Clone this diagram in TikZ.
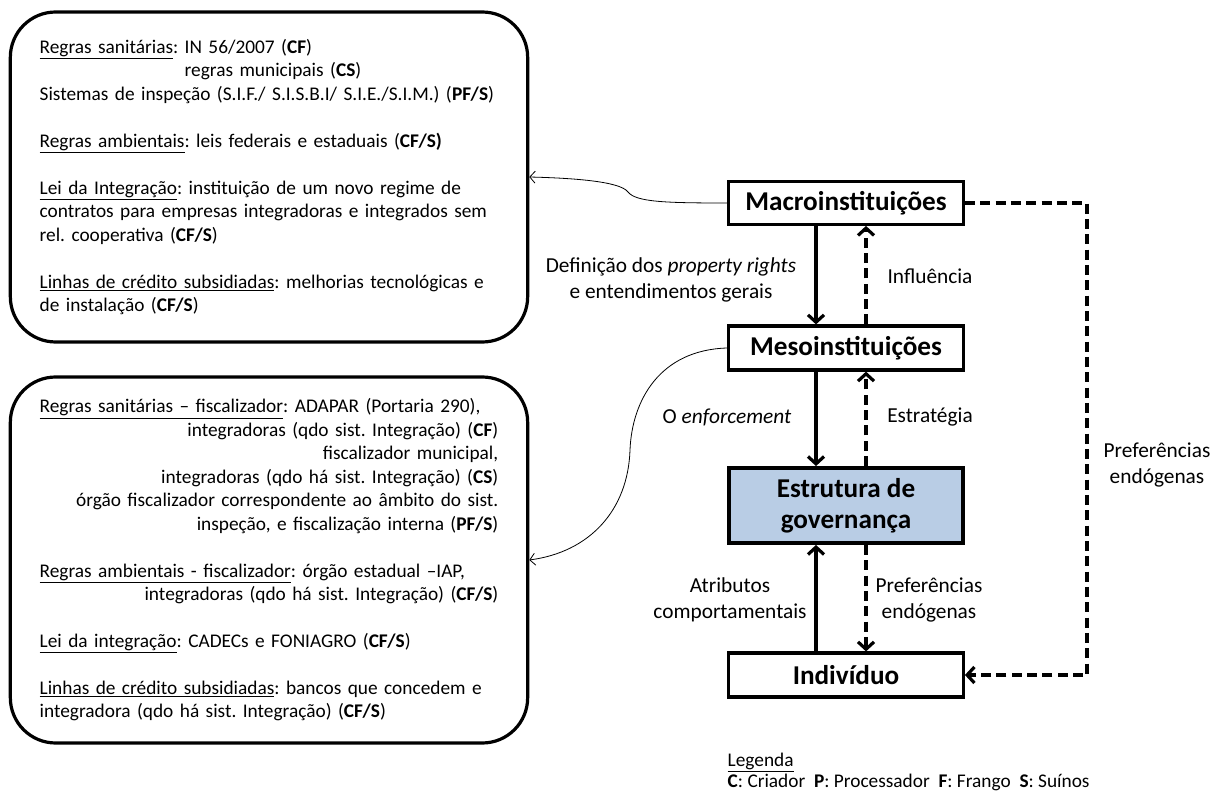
\documentclass[tikz,border=0pt]{standalone}
\usepackage{fontspec}
\setmainfont{Carlito}
\usetikzlibrary{arrows.meta}
\definecolor{govblue}{HTML}{B9CDE5}
\frenchspacing
\newcommand{\txtsize}{\fontsize{14.5}{17.6}\selectfont}
\newcommand{\ttlsize}{\fontsize{20.4}{23.3}\selectfont\bfseries}
\newcommand{\rgt}{\hspace*{\fill}}
\tikzset{
    instbox/.style={draw, line width=2.4pt, minimum width=176pt, minimum height=32pt, font=\ttlsize, inner sep=2pt},
    rulebox/.style={draw, line width=2.4pt, rounded corners=34pt, text width=344pt, align=left, font=\txtsize, inner xsep=22pt},
    mainarrow/.style={line width=2.4pt, -{Straight Barb[length=5.5pt,width=12pt]}},
    sidearrow/.style={mainarrow, dash pattern=on 7.5pt off 4pt},
    linkarrow/.style={line width=0.6pt, -{Straight Barb[length=4pt,width=9pt]}},
    lbl/.style={font=\fontsize{16}{19.5}\selectfont, align=center}
}

\begin{document}
\begin{tikzpicture}[x=0.75pt, y=-0.75pt]
\useasboundingbox (0,0) rectangle (1217,791);

\node[rulebox, minimum height=247.5pt] (topbox) at (269,177) {%
\underline{Regras sanitárias}: IN 56/2007 (\textbf{CF})\\
\phantom{\underline{Regras sanitárias}: }regras municipais (\textbf{CS})\\
Sistemas de inspeção (S.I.F./ S.I.S.B.I/ S.I.E./S.I.M.) (\textbf{PF/S})\\[17.6pt]
\underline{Regras ambientais}: leis federais e estaduais (\textbf{CF/S)}\\[17.6pt]
\underline{Lei da Integração}: instituição de um novo regime de\\
contratos para empresas integradoras e integrados sem\\
rel. cooperativa (\textbf{CF/S})\\[17.6pt]
\underline{Linhas de crédito subsidiadas}: melhorias tecnológicas e\\
de instalação (\textbf{CF/S})};

\node[rulebox, minimum height=274.5pt] (botbox) at (269,560) {%
\underline{Regras sanitárias – fiscalizador}: ADAPAR (Portaria 290),\\
\rgt integradoras (qdo sist. Integração) (\textbf{CF})\\
\rgt fiscalizador municipal,\\
\rgt integradoras (qdo há sist. Integração) (\textbf{CS})\\
\rgt órgão fiscalizador correspondente ao âmbito do sist.\\
\rgt inspeção, e fiscalização interna (\textbf{PF/S})\\[17.6pt]
\underline{Regras ambientais - fiscalizador}: órgão estadual –IAP,\\
\rgt integradoras (qdo há sist. Integração) (\textbf{CF/S})\\[17.6pt]
\underline{Lei da integração}: CADECs e FONIAGRO (\textbf{CF/S})\\[17.6pt]
\underline{Linhas de crédito subsidiadas}: bancos que concedem e\\
integradora (qdo há sist. Integração) (\textbf{CF/S})};

\node[instbox] (macro) at (846,203) {Macroinstituições};
\node[instbox, minimum height=33pt] (meso) at (846,348) {Mesoinstituições};
\node[instbox, line width=3.2pt, fill=govblue, minimum height=56pt, align=center] (gov) at (846,505.5) {Estrutura de\\governança};
\node[instbox, minimum height=33pt] (indiv) at (846,675) {Indivíduo};

\node[lbl] (lbldef) at (671,280) {Definição dos \textit{property rights}\\e entendimentos gerais};
\node[lbl] (lblinf) at (930,276) {Influência};
\node[lbl] (lblenf) at (727,417) {O \textit{enforcement}};
\node[lbl] (lblest) at (930,417) {Estratégia};
\node[lbl] (lblatr) at (730,600) {Atributos\\comportamentais};
\node[lbl] (lblpref) at (929,600) {Preferências\\endógenas};
\node[lbl] (lblprefr) at (1157,465) {Preferências\\endógenas};
\node[font=\fontsize{14.5}{15.8}\selectfont, align=left, anchor=west] (legenda) at (723,772)
    {\underline{Legenda}\\\textbf{C}: Criador \ \textbf{P}: Processador \ \textbf{F}: Frango \ \textbf{S}: Suínos};

\draw[mainarrow] ([xshift=-22.5pt]macro.south) -- ([xshift=-22.5pt]meso.north);
\draw[sidearrow] ([xshift=15pt]meso.north) -- ([xshift=15pt]macro.south);
\draw[mainarrow] ([xshift=-22.5pt]meso.south) -- ([xshift=-22.5pt]gov.north);
\draw[sidearrow] ([xshift=15pt]gov.north) -- ([xshift=15pt]meso.south);
\draw[mainarrow] ([xshift=-22.5pt]indiv.north) -- ([xshift=-22.5pt]gov.south);
\draw[sidearrow] ([xshift=15pt]gov.south) -- ([xshift=15pt]indiv.north);

\coordinate (corner) at (1087,203);
\draw[sidearrow] (macro.east) -- (corner) |- (indiv.east);

\draw[linkarrow] (macro.west)
        .. controls (665,203) and (636,202) ..
        (628,192)
        .. controls (620,181) and (570,178) ..
        (topbox.east);
\draw[linkarrow] (meso.west)
        .. controls (660,350) and (632,400) ..
        (630,450)
        .. controls (628,510) and (590,552) ..
        (botbox.east);

\end{tikzpicture}
\end{document}
